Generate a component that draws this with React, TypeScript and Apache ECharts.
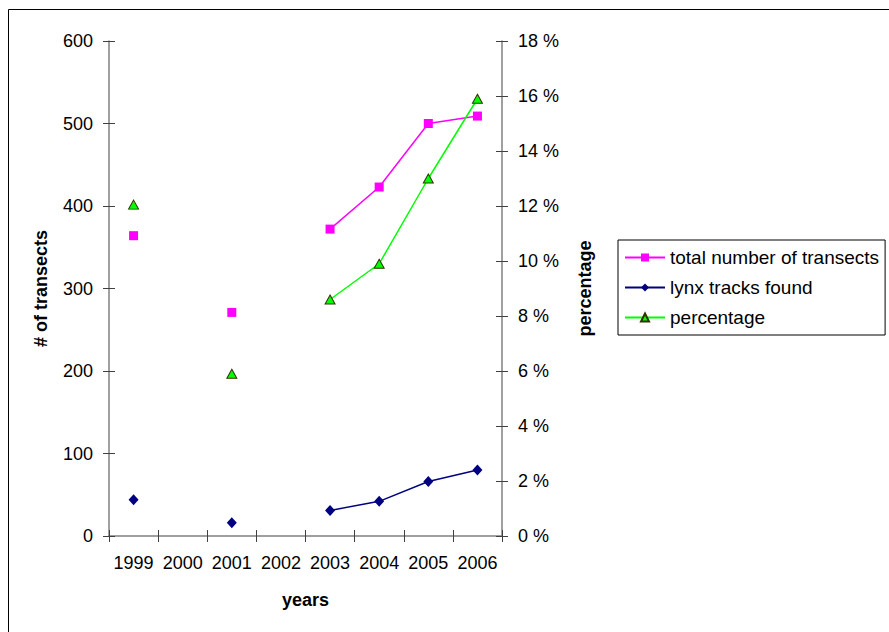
import React, { useEffect, useRef } from "react";
import * as echarts from "echarts";

const years = ["1999", "2000", "2001", "2002", "2003", "2004", "2005", "2006"];
const totalTransects = [364, null, 271, null, 372, 423, 500, 509];
const lynxTracks = [44, null, 16, null, 31, 42, 66, 80];
const percentage = [12.05, null, 5.9, null, 8.6, 9.9, 13.0, 15.9];

const FONT = "'Liberation Sans', Arial, sans-serif";

export default function App() {
  const ref = useRef<HTMLDivElement>(null);
  useEffect(() => {
    if (!ref.current) return;
    const chart = echarts.init(ref.current, undefined, { renderer: "svg" });
    const axisLine = { show: true, lineStyle: { color: "#808080", width: 1.5 } };
    const tickStyle = { color: "#404040", width: 1 };
    chart.setOption({
      animation: false,
      backgroundColor: "#ffffff",
      textStyle: { fontFamily: FONT, color: "#000" },
      grid: { left: 109, right: 387, top: 41, bottom: 96, containLabel: false },
      graphic: [
        {
          type: "rect",
          silent: true,
          z: -10,
          shape: { x: 8.5, y: 9.5, width: 1000, height: 1000 },
          style: { fill: "none", stroke: "#000", lineWidth: 1 },
        },
      ],
      legend: {
        orient: "vertical",
        left: 618,
        top: 240,
        padding: [8, 6, 8, 6],
        itemGap: 11,
        itemWidth: 40,
        itemHeight: 10,
        borderColor: "#000",
        borderWidth: 1,
        backgroundColor: "#fff",
        textStyle: { fontFamily: FONT, fontSize: 19, color: "#000", padding: [0, 0, 0, 0] },
        data: ["total number of transects", "lynx tracks found", "percentage"],
      },
      xAxis: [
        {
          type: "category",
          data: years,
          boundaryGap: true,
          name: "years",
          nameLocation: "middle",
          nameGap: 55,
          nameTextStyle: { fontFamily: FONT, fontSize: 18, fontWeight: "bold", color: "#000" },
          axisLine,
          axisTick: { show: true, interval: 0, length: 6, lineStyle: tickStyle },
          axisLabel: { interval: 0, margin: 18, fontFamily: FONT, fontSize: 18, color: "#000" },
          splitLine: { show: false },
        },
        {
          type: "category",
          data: years,
          position: "bottom",
          boundaryGap: true,
          axisLine: { show: false },
          axisTick: { show: true, inside: true, interval: 0, length: 6, lineStyle: tickStyle },
          axisLabel: { show: false },
          splitLine: { show: false },
        },
      ],
      yAxis: [
        {
          type: "value",
          min: 0,
          max: 600,
          interval: 100,
          position: "left",
          name: "# of transects",
          nameLocation: "middle",
          nameGap: 59,
          nameTextStyle: { fontFamily: FONT, fontSize: 18, fontWeight: "bold", color: "#000" },
          axisLine,
          axisTick: { show: true, length: 6, lineStyle: tickStyle },
          axisLabel: { margin: 16, fontFamily: FONT, fontSize: 18, color: "#000" },
          splitLine: { show: false },
        },
        {
          type: "value",
          min: 0,
          max: 18,
          interval: 2,
          position: "right",
          name: "percentage",
          nameLocation: "middle",
          nameGap: 74,
          nameTextStyle: { fontFamily: FONT, fontSize: 18, fontWeight: "bold", color: "#000" },
          axisLine,
          axisTick: { show: true, length: 6, lineStyle: tickStyle },
          axisLabel: { margin: 16, fontFamily: FONT, fontSize: 18, color: "#000", formatter: "{value} %" },
          splitLine: { show: false },
        },
        {
          type: "value",
          min: 0,
          max: 600,
          interval: 100,
          position: "left",
          axisLine: { show: false },
          axisTick: { show: true, inside: true, length: 6, lineStyle: tickStyle },
          axisLabel: { show: false },
          splitLine: { show: false },
        },
        {
          type: "value",
          min: 0,
          max: 18,
          interval: 2,
          position: "right",
          axisLine: { show: false },
          axisTick: { show: true, inside: true, length: 6, lineStyle: tickStyle },
          axisLabel: { show: false },
          splitLine: { show: false },
        },
      ],
      series: [
        {
          name: "total number of transects",
          type: "line",
          yAxisIndex: 0,
          data: totalTransects,
          connectNulls: false,
          symbol: "rect",
          symbolSize: 9,
          itemStyle: { color: "#ff00ff" },
          lineStyle: { color: "#ff00ff", width: 1.5 },
          z: 3,
        },
        {
          name: "lynx tracks found",
          type: "line",
          yAxisIndex: 0,
          data: lynxTracks,
          connectNulls: false,
          symbol: "diamond",
          symbolSize: [10, 11],
          itemStyle: { color: "#000080" },
          lineStyle: { color: "#000080", width: 1.5 },
          z: 3,
        },
        {
          name: "percentage",
          type: "line",
          yAxisIndex: 1,
          data: percentage,
          connectNulls: false,
          symbol: "triangle",
          symbolSize: [10, 9],
          itemStyle: { color: "#00ff00", borderColor: "#333300", borderWidth: 1 },
          lineStyle: { color: "#00ff00", width: 1.5 },
          z: 4,
        },
      ],
    });
    return () => chart.dispose();
  }, []);
  return (
    <div
      ref={ref}
      style={{ position: "fixed", left: 0, top: 0, width: 889, height: 632, background: "#fff" }}
    />
  );
}
